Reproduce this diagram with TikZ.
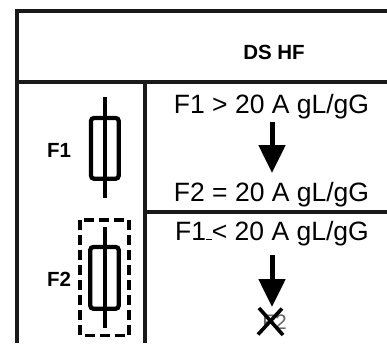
\documentclass[tikz,border=0pt]{standalone}
\usepackage{fontspec}
\setmainfont{Liberation Sans}
\usetikzlibrary{arrows.meta}
\begin{document}
\begin{tikzpicture}[x=1pt,y=-1pt,
  frame/.style={line width=4pt, draw=black!90},
  fuse/.style={line width=4.3pt, rounded corners=3pt},
  lbl/.style={font=\fontsize{20.5}{24}\selectfont\bfseries, inner sep=0pt},
  txt/.style={font=\fontsize{26.5}{30}\selectfont, inner sep=0pt, anchor=base},
  bigarrow/.style={line width=5pt, -{Triangle[width=26pt,length=28pt]}, shorten >=0pt},
  dashbox/.style={line width=3.5pt, dash pattern=on 10pt off 5pt}
]
\useasboundingbox (0,0) rectangle (387,343);
% frame
\draw[frame] (17,343) -- (17,11) -- (387,11);
\draw[frame] (15,82) -- (387,82);
\draw[frame] (145,82) -- (145,343);
\draw[frame] (145,212) -- (387,212);
% header
\node[lbl] (hdr) at (274,52) {DS HF};
% F1 fuse
\node[lbl] (f1) at (59,150) {F1};
\coordinate (f1t) at (105.3,97);
\coordinate (f1b) at (105.3,198);
\draw[line width=4.3pt] (f1t) -- (f1b);
\draw[fuse] (91,118) rectangle (118.7,178.7);
% F2 fuse
\node[lbl] (f2) at (59,279) {F2};
\draw[dashbox] (80,220) rectangle (129,335.5);
\coordinate (f2t) at (105.3,226.7);
\coordinate (f2b) at (105.3,328.3);
\draw[line width=4.3pt] (f2t) -- (f2b);
\draw[fuse] (90.3,247) rectangle (118.7,308.7);
% upper right
\node[txt] (u1) at (271.5,113.3) {F1 > 20 A gL/gG};
\node[txt] (u2) at (271.5,201.7) {F2 = 20 A gL/gG};
\coordinate (a1s) at (272,122);
\coordinate (a1e) at (272,173);
\draw[bigarrow] (a1s) -- (a1e);
% lower right
\node[txt] (l1) at (272,240) {F1\rule{0.22em}{0.05em}< 20 A gL/gG};
\coordinate (a2s) at (272,255);
\coordinate (a2e) at (272,307);
\draw[bigarrow] (a2s) -- (a2e);
\node[font=\fontsize{21}{24}\selectfont, text=black!60, inner sep=0pt] (xf2) at (274.5,322.5) {F2};
\draw[line width=3.6pt] (259,308) -- (283,335);
\draw[line width=3.6pt] (282,308.5) -- (258,334.5);
\end{tikzpicture}
\end{document}
